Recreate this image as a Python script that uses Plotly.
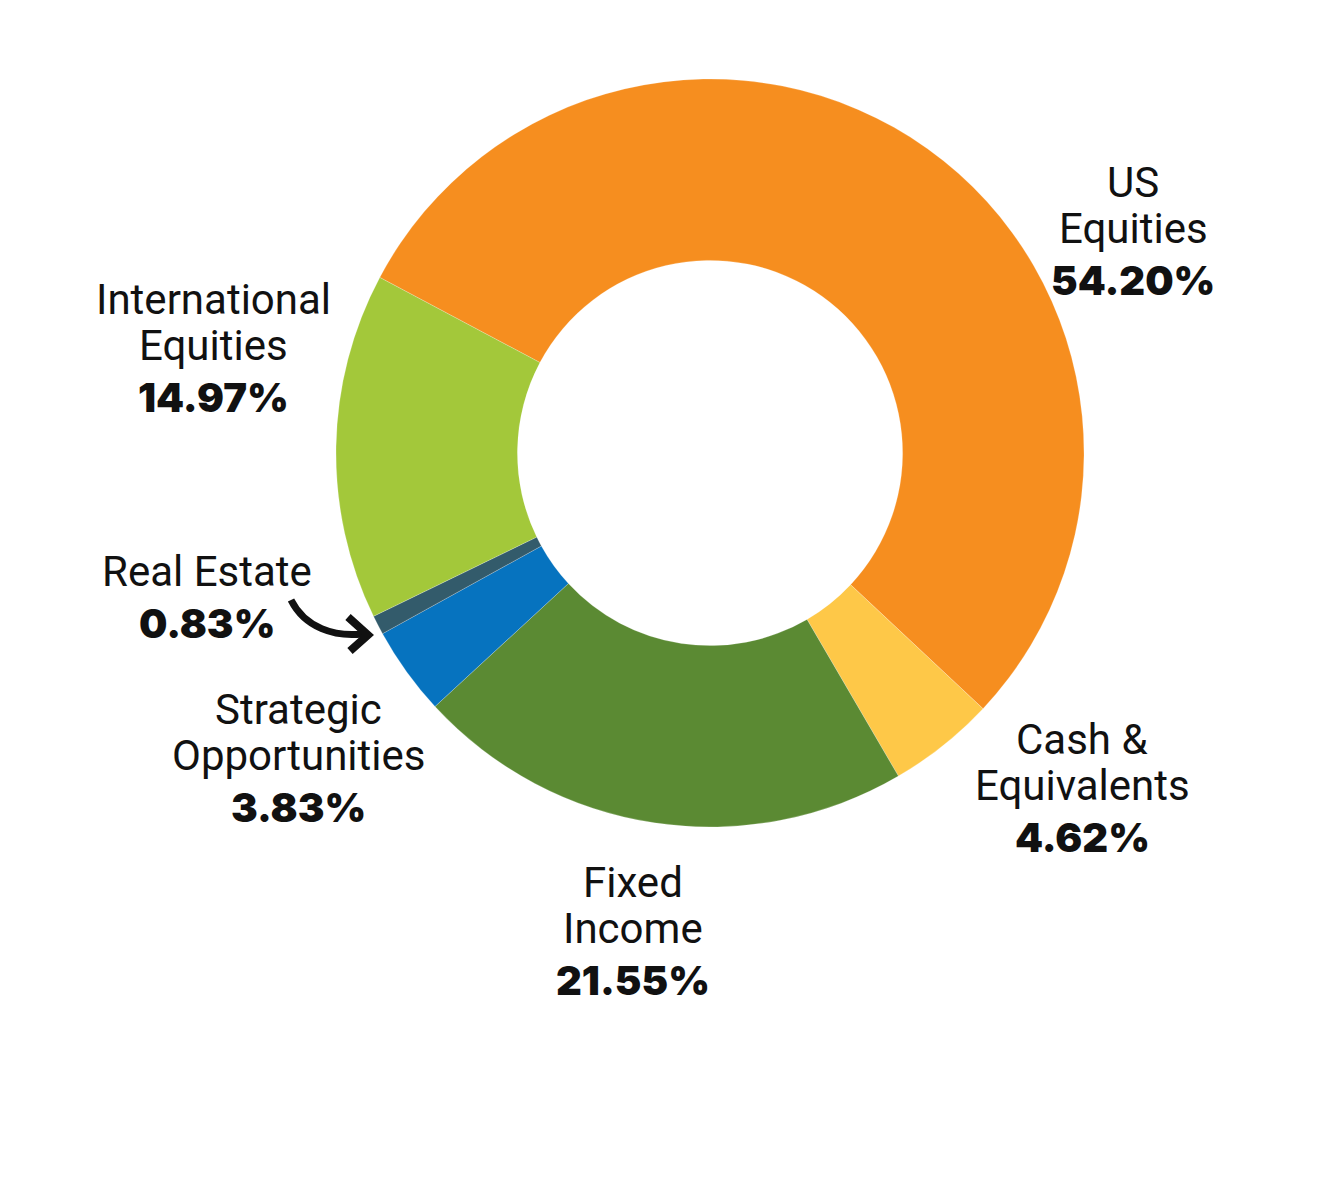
import plotly.graph_objects as go

W, H = 1323, 1189
OFF = 8  # page body margin shifts the figure by this many pixels

# asset allocation, clockwise from the top-left edge of US Equities
labels = ["US Equities", "Cash & Equivalents", "Fixed Income",
          "Strategic Opportunities", "Real Estate", "International Equities"]
values = [54.20, 4.62, 21.55, 3.83, 0.83, 14.97]
name_lines = [["US", "Equities"], ["Cash &", "Equivalents"], ["Fixed", "Income"],
              ["Strategic", "Opportunities"], ["Real Estate"], ["International", "Equities"]]
colors = ["#F68E1F", "#FEC848", "#5B8A33", "#0673BF", "#335B6B", "#A3C83A"]

# label block positions in pixels: (x centre, baseline of last name line)
label_pos = [(1133, 245), (1082, 802), (633, 945), (298, 772), (207, 588), (213, 362)]


def px(x):
    return (x - OFF) / W


def py(y):
    return 1 - (y - OFF) / H


cx, cy, r = 710, 453, 374

fig = go.Figure(go.Pie(
    labels=labels,
    values=values,
    sort=False,
    direction="clockwise",
    rotation=-62,
    hole=0.515,
    marker=dict(colors=colors, line=dict(color="rgba(255,255,255,0.35)", width=0.6)),
    textinfo="none",
    hoverinfo="label+percent",
    showlegend=False,
    domain=dict(x=[px(cx - r), px(cx + r)], y=[py(cy + r), py(cy - r)]),
))

name_font = dict(family="Roboto", size=42, color="#111111")
pct_font = dict(family="Inter", size=40, color="#111111", weight=900)
line_gap = 46

annotations = []
for lines, val, (lx, ly) in zip(name_lines, values, label_pos):
    n = len(lines)
    for i, t in enumerate(lines):
        base = ly - (n - 1 - i) * line_gap
        annotations.append(dict(
            x=px(lx), y=py(base + 10), xref="paper", yref="paper",
            text=t, showarrow=False, font=name_font,
            xanchor="center", yanchor="bottom",
        ))
    annotations.append(dict(
        x=px(lx), y=py(ly + 52 + 10), xref="paper", yref="paper",
        text=f"{val:.2f}%", showarrow=False, font=pct_font,
        xanchor="center", yanchor="bottom",
    ))

# curved arrow pointing from the Real Estate label to its thin slice
pts = [(291, 600), (305, 628), (335, 637), (362, 634)]
curve = "M {},{} C {},{} {},{} {},{}".format(*[v for p in pts for v in (px(p[0]), py(p[1]))])
head = "M {},{} L {},{} L {},{}".format(px(348), py(617), px(368), py(635), px(350), py(651))

fig.update_layout(
    width=W, height=H,
    margin=dict(l=0, r=0, t=0, b=0),
    paper_bgcolor="white",
    plot_bgcolor="white",
    annotations=annotations,
    shapes=[
        dict(type="path", path=curve, xref="paper", yref="paper",
             line=dict(color="#111111", width=7)),
        dict(type="path", path=head, xref="paper", yref="paper",
             line=dict(color="#111111", width=8)),
    ],
)

fig.write_html("out.html")
